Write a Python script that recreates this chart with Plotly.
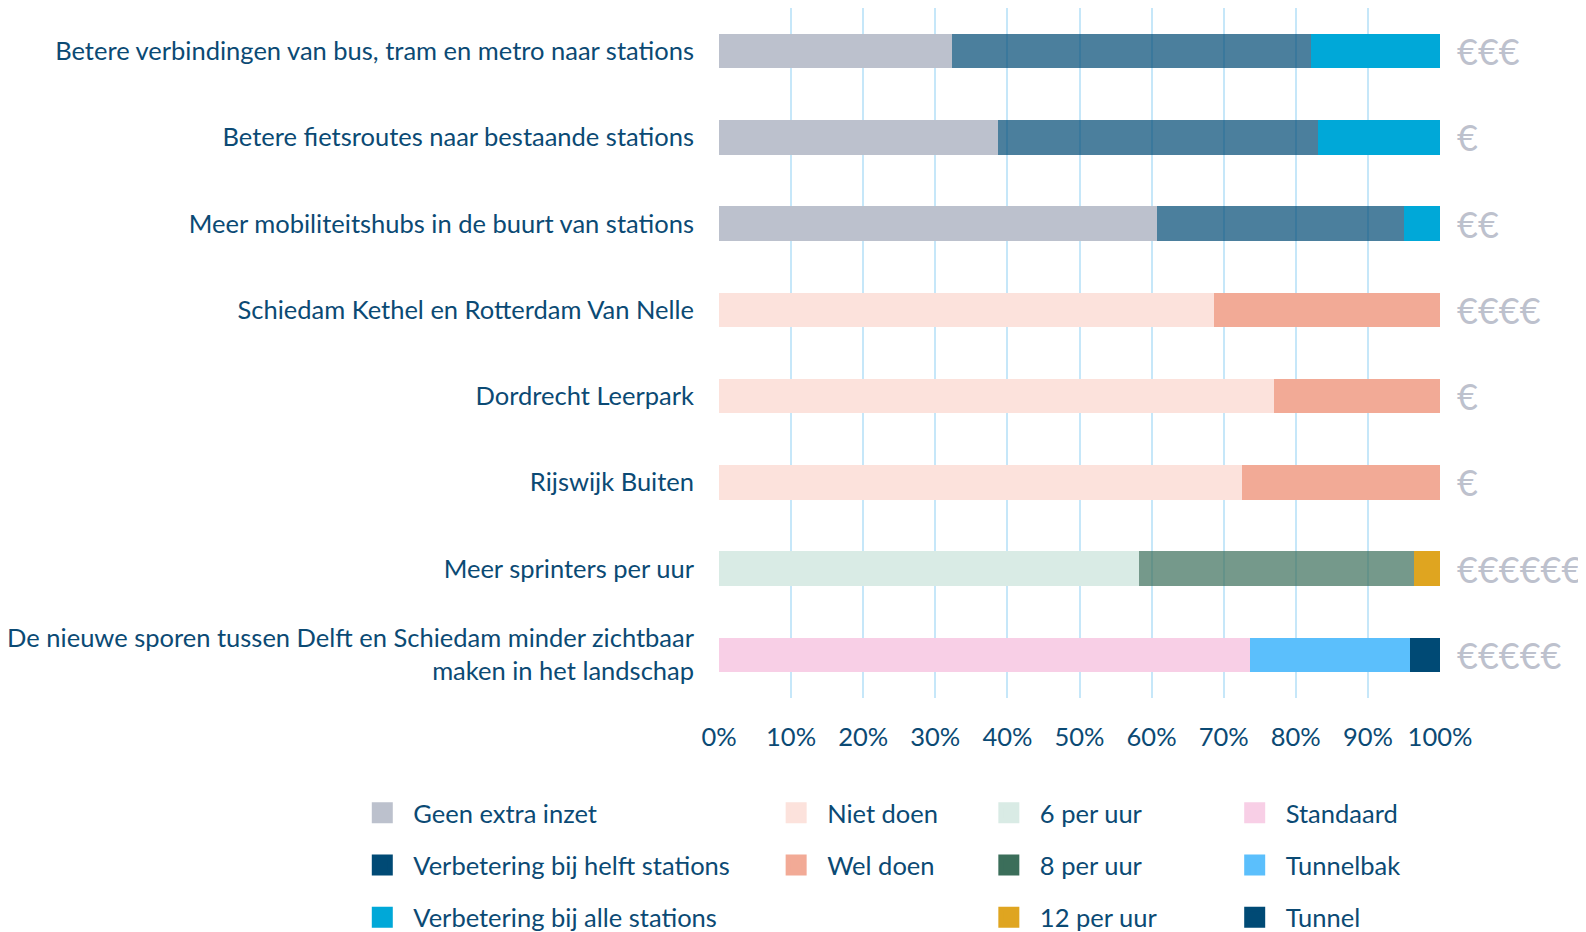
import plotly.graph_objects as go

categories = [
    "Betere verbindingen van bus, tram en metro naar stations",
    "Betere fietsroutes naar bestaande stations",
    "Meer mobiliteitshubs in de buurt van stations",
    "Schiedam Kethel en Rotterdam Van Nelle",
    "Dordrecht Leerpark",
    "Rijswijk Buiten",
    "Meer sprinters per uur",
    "De nieuwe sporen tussen Delft en Schiedam minder zichtbaar<br>maken in het landschap",
]

cost_labels = ["€€€", "€", "€€", "€€€€", "€", "€", "€€€€€€", "€€€€€"]

geen_extra_inzet = [32.3, 38.7, 60.8, None, None, None, None, None]
verbetering_helft = [49.8, 44.4, 34.2, None, None, None, None, None]
verbetering_alle = [17.9, 16.9, 5.0, None, None, None, None, None]
niet_doen = [None, None, None, 68.7, 77.0, 72.6, None, None]
wel_doen = [None, None, None, 31.3, 23.0, 27.4, None, None]
per_uur_6 = [None, None, None, None, None, None, 58.2, None]
per_uur_8 = [None, None, None, None, None, None, 38.2, None]
per_uur_12 = [None, None, None, None, None, None, 3.6, None]
standaard = [None, None, None, None, None, None, None, 73.7]
tunnelbak = [None, None, None, None, None, None, None, 22.1]
tunnel = [None, None, None, None, None, None, None, 4.2]

x_ticks = [0, 10, 20, 30, 40, 50, 60, 70, 80, 90, 100]
x_tick_labels = ["0%", "10%", "20%", "30%", "40%", "50%", "60%", "70%", "80%", "90%", "100%"]

TEXT = "#0b4a74"
FONT = "Lato"
FS = 25.5

series = [
    ("Geen extra inzet", geen_extra_inzet, "#bcc1cd", 1.0, "legend"),
    ("Verbetering bij helft stations", verbetering_helft, "#004a75", 0.7, "legend"),
    ("Verbetering bij alle stations", verbetering_alle, "#00a8d8", 1.0, "legend"),
    ("Niet doen", niet_doen, "#fce2dc", 1.0, "legend2"),
    ("Wel doen", wel_doen, "#f2aa96", 1.0, "legend2"),
    ("6 per uur", per_uur_6, "#d9ebe5", 1.0, "legend3"),
    ("8 per uur", per_uur_8, "#3b6e5a", 0.7, "legend3"),
    ("12 per uur", per_uur_12, "#dfa520", 1.0, "legend3"),
    ("Standaard", standaard, "#f8cfe6", 1.0, "legend4"),
    ("Tunnelbak", tunnelbak, "#5bbffc", 1.0, "legend4"),
    ("Tunnel", tunnel, "#004a75", 1.0, "legend4"),
]

fig = go.Figure()
for name, vals, color, op, _ in series:
    fig.add_trace(go.Bar(
        y=categories, x=vals, name=name, orientation="h",
        marker=dict(color=color, line=dict(width=0)), opacity=op,
        width=0.4, showlegend=False, hoverinfo="x+name",
    ))

for name, vals, color, op, leg in series:
    fig.add_trace(go.Scatter(
        x=[None], y=[None], mode="markers", name=name, legend=leg,
        legendgroup=name,
        marker=dict(symbol="square", size=16, color=color,
                    line=dict(color=color, width=5)),
        showlegend=True,
    ))

for cat, lab in zip(categories, cost_labels):
    fig.add_annotation(
        x=1.022, y=cat, xref="paper", yref="y", text=lab, showarrow=False,
        xanchor="left", yanchor="middle", borderpad=0,
        font=dict(family=FONT, size=36, color="#bdc1cd"),
    )

leg_common = dict(
    orientation="v", xanchor="left", yanchor="top",
    font=dict(family=FONT, size=FS, color=TEXT),
    itemwidth=52, tracegroupgap=16, bgcolor="rgba(0,0,0,0)",
    borderwidth=0, itemclick=False, itemdoubleclick=False,
)

LEG_Y = -0.1330

fig.update_layout(
    barmode="stack",
    width=1578, height=924,
    margin=dict(l=711, r=146, t=0, b=234, autoexpand=False),
    paper_bgcolor="white", plot_bgcolor="white",
    font=dict(family=FONT, size=FS, color=TEXT),
    legend=dict(x=-0.510, y=LEG_Y, **leg_common),
    legend2=dict(x=0.064, y=LEG_Y, **leg_common),
    legend3=dict(x=0.359, y=LEG_Y, **leg_common),
    legend4=dict(x=0.700, y=LEG_Y, **leg_common),
    xaxis=dict(
        range=[0, 100], tickmode="array", tickvals=x_ticks, ticktext=x_tick_labels,
        showgrid=True, gridcolor="#c6e7f9", gridwidth=1.5,
        zeroline=False, showline=False, ticks="",
        tickfont=dict(family=FONT, size=FS, color=TEXT),
        ticklabelstandoff=21, fixedrange=True,
    ),
    yaxis=dict(
        categoryorder="array", categoryarray=categories,
        autorange="reversed", showgrid=False, zeroline=False,
        showline=False, ticks="",
        tickfont=dict(family=FONT, size=FS, color=TEXT),
        ticklabelstandoff=24, fixedrange=True,
    ),
)

fig.write_html("out.html")
